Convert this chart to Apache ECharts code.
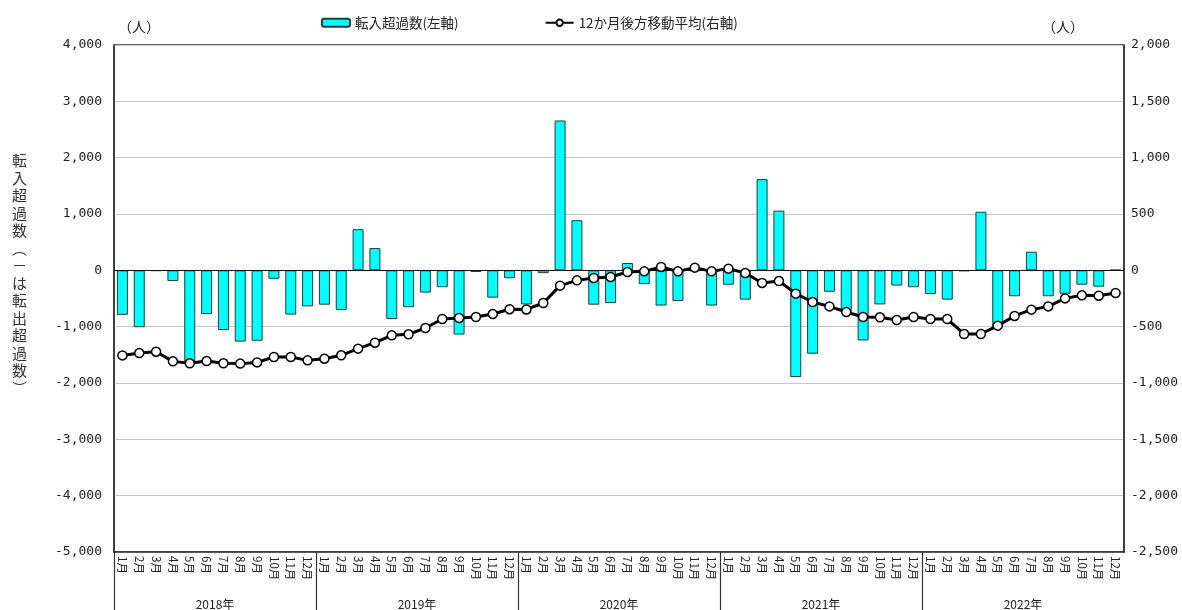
<!DOCTYPE html>
<html><head><meta charset="utf-8">
<script src="https://cdn.jsdelivr.net/npm/echarts@6/dist/echarts.min.js"></script>
<style>html,body{margin:0;padding:0;background:#fff}#c{width:1182px;height:610px}</style>
</head><body><div id="c"></div>
<script>
const years = ['2018年', '2019年', '2020年', '2021年', '2022年'];
const months = ['1月', '2月', '3月', '4月', '5月', '6月', '7月', '8月', '9月', '10月', '11月', '12月'];

// 転入超過数 (left axis)
const netInflow = [
  -790, -1010, -10, -190, -1620, -775, -1060, -1265, -1250, -150, -785, -640,
  -610, -705, 730, 395, -865, -655, -395, -300, -1140, -30, -485, -140,
  -605, -50, 2660, 890, -610, -580, 130, -245, -625, -545, -10, -625,
  -255, -520, 1620, 1060, -1895, -1480, -380, -740, -1245, -605, -270, -300,
  -420, -520, -15, 1040, -1000, -460, 330, -460, -415, -255, -290, 10
];
// 12か月後方移動平均 (right axis)
const movingAvg = [
  -755, -734, -722, -808, -825, -805, -825, -828, -817, -769, -769, -799,
  -784, -754, -695, -642, -577, -568, -512, -432, -423, -414, -388, -345,
  -347, -290, -136, -89, -68, -59, -15, -9, 30, -9, 24, -9,
  15, -24, -112, -95, -207, -281, -320, -370, -414, -417, -441, -414,
  -432, -432, -565, -565, -491, -405, -349, -320, -249, -222, -225, -201
];
const leftMin = -5000, leftMax = 4000, leftStep = 1000;
const rightMin = -2500, rightMax = 2000, rightStep = 500;
const seriesNames = ['転入超過数(左軸)', '12か月後方移動平均(右軸)'];
const unitLabel = '（人）';
const yTitle = '転入超過数︵－は転出超過数︶';

const categories = [];
years.forEach(y => months.forEach(m => categories.push(y + m)));
const yearCats = years.concat(['']);

const numFmt = v => (v < 0 ? '-' : '') + Math.abs(v).toLocaleString('en-US');
const jp = '"Noto Sans CJK JP", sans-serif';
const mono = '"DejaVu Sans Mono", monospace';

const chart = echarts.init(document.getElementById('c'), null, {renderer: 'canvas'});
chart.setOption({
  animation: false,
  backgroundColor: '#fff',
  legend: {
    left: 316, top: 11, itemWidth: 28, itemHeight: 8, itemGap: 86,
    textStyle: {fontFamily: jp, fontSize: 13.5, color: '#222'},
    data: seriesNames
  },
  graphic: [{
    type: 'text', left: 12, top: 152,
    style: {text: yTitle.split('').join('\n'), font: '15px ' + jp, lineHeight: 17.5, fill: '#333', align: 'center'}
  }],
  grid: [
    {left: 114, top: 45, width: 1010, height: 507, show: true, borderColor: '#333', borderWidth: 1.5,
      containLabel: false, outerBoundsMode: 'none'},
    {left: 114, top: 45, width: 1212, height: 507, show: false, containLabel: false, outerBoundsMode: 'none'}
  ],
  xAxis: [
    {
      type: 'category', gridIndex: 0, data: categories, position: 'bottom',
      axisLine: {show: true, onZero: false, lineStyle: {color: '#333', width: 1.5}},
      axisTick: {show: false},
      axisLabel: {interval: 0, rotate: -90, margin: 4, fontSize: 11.5, fontFamily: jp, color: '#222',
        formatter: v => v.replace(/^\d+年/, '')},
      splitLine: {show: false}
    },
    {
      type: 'category', gridIndex: 1, data: yearCats, position: 'bottom',
      axisLine: {show: false, onZero: false},
      axisTick: {show: true, length: 58, interval: (i) => i < years.length, lineStyle: {color: '#333', width: 1.2}},
      axisLabel: {interval: 0, margin: 46, fontSize: 12, fontFamily: jp, color: '#222'},
      splitLine: {show: false}
    }
  ],
  yAxis: [
    {
      type: 'value', gridIndex: 0, min: leftMin, max: leftMax, interval: leftStep, position: 'left',
      name: unitLabel, nameLocation: 'end', nameGap: 11,
      nameTextStyle: {fontFamily: jp, fontSize: 14, color: '#222', align: 'left', padding: [0, 0, 0, 4]},
      axisLine: {show: true, lineStyle: {color: '#333', width: 1.5}},
      axisTick: {show: false},
      axisLabel: {margin: 12, fontSize: 13, fontFamily: mono, color: '#222', formatter: numFmt},
      splitLine: {show: true, lineStyle: {color: '#c8c8c8', width: 1}}
    },
    {
      type: 'value', gridIndex: 0, min: rightMin, max: rightMax, interval: rightStep, position: 'right',
      name: unitLabel, nameLocation: 'end', nameGap: 11,
      nameTextStyle: {fontFamily: jp, fontSize: 14, color: '#222', align: 'right', padding: [0, 40, 0, 0]},
      axisLine: {show: true, lineStyle: {color: '#333', width: 1.5}},
      axisTick: {show: false},
      axisLabel: {margin: 7, fontSize: 13, fontFamily: mono, color: '#222', formatter: numFmt},
      splitLine: {show: false}
    },
    {type: 'value', gridIndex: 1, show: false}
  ],
  series: [
    {
      name: seriesNames[0], type: 'bar', xAxisIndex: 0, yAxisIndex: 0, data: netInflow,
      barWidth: 11,
      itemStyle: {color: '#00FFFF', borderColor: '#223c3c', borderWidth: 1},
      markLine: {silent: true, symbol: 'none', label: {show: false},
        lineStyle: {color: '#111', width: 1.2, type: 'solid'}, data: [{yAxis: 0}]}
    },
    {
      name: seriesNames[1], type: 'line', xAxisIndex: 0, yAxisIndex: 1, data: movingAvg,
      symbol: 'circle', symbolSize: 9, z: 5,
      lineStyle: {color: '#000', width: 3},
      itemStyle: {color: '#fff', borderColor: '#000', borderWidth: 1.5}
    }
  ]
});
</script></body></html>
